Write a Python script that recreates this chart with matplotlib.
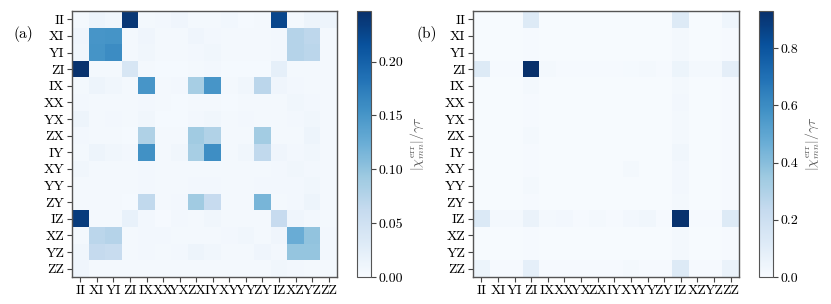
import numpy as np
import matplotlib
matplotlib.use("Agg")
import matplotlib.pyplot as plt

plt.rcParams['font.family'] = ['cmr10', 'DejaVu Serif']
plt.rcParams['mathtext.fontset'] = 'cm'
plt.rcParams['axes.formatter.use_mathtext'] = True

labels = ["II", "XI", "YI", "ZI", "IX", "XX", "YX", "ZX",
          "IY", "XY", "YY", "ZY", "IZ", "XZ", "YZ", "ZZ"]

chi_a = [
    [0.004, 0.012, 0.008, 0.240, 0.004, 0.006, 0.010, 0.005, 0.004, 0.007, 0.003, 0.005, 0.225, 0.004, 0.012, 0.012],
    [0.010, 0.150, 0.152, 0.004, 0.010, 0.004, 0.004, 0.010, 0.006, 0.004, 0.004, 0.004, 0.006, 0.075, 0.068, 0.004],
    [0.008, 0.152, 0.160, 0.004, 0.008, 0.004, 0.004, 0.006, 0.008, 0.004, 0.004, 0.005, 0.006, 0.075, 0.070, 0.004],
    [0.245, 0.004, 0.004, 0.040, 0.005, 0.003, 0.003, 0.004, 0.006, 0.003, 0.003, 0.003, 0.022, 0.005, 0.005, 0.004],
    [0.004, 0.012, 0.008, 0.004, 0.150, 0.004, 0.006, 0.085, 0.150, 0.004, 0.008, 0.070, 0.010, 0.006, 0.004, 0.004],
    [0.006, 0.004, 0.004, 0.004, 0.006, 0.005, 0.003, 0.004, 0.004, 0.003, 0.004, 0.004, 0.004, 0.008, 0.006, 0.004],
    [0.012, 0.004, 0.006, 0.004, 0.008, 0.003, 0.003, 0.006, 0.008, 0.004, 0.006, 0.005, 0.005, 0.006, 0.008, 0.004],
    [0.006, 0.004, 0.004, 0.003, 0.080, 0.004, 0.004, 0.090, 0.078, 0.004, 0.004, 0.088, 0.004, 0.004, 0.012, 0.004],
    [0.004, 0.012, 0.008, 0.006, 0.155, 0.004, 0.008, 0.085, 0.158, 0.004, 0.008, 0.065, 0.010, 0.006, 0.008, 0.004],
    [0.008, 0.004, 0.004, 0.004, 0.006, 0.004, 0.004, 0.004, 0.004, 0.004, 0.004, 0.004, 0.006, 0.008, 0.006, 0.004],
    [0.004, 0.004, 0.004, 0.004, 0.006, 0.004, 0.004, 0.006, 0.006, 0.004, 0.004, 0.006, 0.006, 0.006, 0.008, 0.004],
    [0.004, 0.004, 0.004, 0.003, 0.065, 0.004, 0.006, 0.090, 0.060, 0.004, 0.004, 0.115, 0.004, 0.006, 0.012, 0.004],
    [0.235, 0.004, 0.004, 0.018, 0.006, 0.002, 0.006, 0.004, 0.008, 0.004, 0.004, 0.004, 0.060, 0.010, 0.006, 0.004],
    [0.004, 0.070, 0.075, 0.004, 0.006, 0.006, 0.004, 0.004, 0.004, 0.006, 0.008, 0.004, 0.010, 0.125, 0.100, 0.006],
    [0.008, 0.062, 0.058, 0.004, 0.006, 0.005, 0.006, 0.012, 0.008, 0.004, 0.005, 0.010, 0.006, 0.098, 0.098, 0.006],
    [0.010, 0.004, 0.004, 0.004, 0.004, 0.004, 0.004, 0.004, 0.004, 0.004, 0.004, 0.004, 0.008, 0.006, 0.004, 0.004],
]

chi_b = [
    [0.005, 0.005, 0.005, 0.120, 0.005, 0.005, 0.005, 0.005, 0.005, 0.005, 0.005, 0.005, 0.120, 0.005, 0.005, 0.040],
    [0.005, 0.005, 0.005, 0.010, 0.005, 0.005, 0.005, 0.005, 0.005, 0.005, 0.005, 0.005, 0.020, 0.005, 0.005, 0.010],
    [0.005, 0.005, 0.005, 0.010, 0.005, 0.005, 0.005, 0.005, 0.005, 0.005, 0.005, 0.005, 0.020, 0.005, 0.005, 0.010],
    [0.120, 0.008, 0.008, 0.930, 0.015, 0.008, 0.008, 0.010, 0.008, 0.012, 0.015, 0.008, 0.050, 0.020, 0.020, 0.090],
    [0.005, 0.005, 0.005, 0.020, 0.005, 0.005, 0.005, 0.005, 0.005, 0.005, 0.005, 0.005, 0.020, 0.005, 0.005, 0.008],
    [0.005, 0.005, 0.005, 0.010, 0.005, 0.005, 0.005, 0.005, 0.005, 0.005, 0.005, 0.005, 0.025, 0.005, 0.005, 0.008],
    [0.005, 0.005, 0.005, 0.010, 0.005, 0.005, 0.005, 0.005, 0.005, 0.005, 0.005, 0.005, 0.015, 0.005, 0.005, 0.008],
    [0.005, 0.005, 0.005, 0.020, 0.005, 0.005, 0.005, 0.005, 0.005, 0.005, 0.005, 0.005, 0.020, 0.005, 0.005, 0.008],
    [0.005, 0.005, 0.005, 0.010, 0.005, 0.005, 0.005, 0.005, 0.005, 0.005, 0.005, 0.005, 0.030, 0.005, 0.005, 0.008],
    [0.005, 0.005, 0.005, 0.010, 0.005, 0.005, 0.005, 0.005, 0.005, 0.015, 0.005, 0.005, 0.025, 0.005, 0.005, 0.008],
    [0.005, 0.005, 0.005, 0.015, 0.005, 0.005, 0.005, 0.005, 0.005, 0.005, 0.005, 0.005, 0.025, 0.005, 0.005, 0.008],
    [0.005, 0.005, 0.005, 0.010, 0.005, 0.005, 0.005, 0.005, 0.005, 0.005, 0.005, 0.005, 0.015, 0.005, 0.005, 0.008],
    [0.130, 0.020, 0.020, 0.060, 0.015, 0.025, 0.010, 0.020, 0.010, 0.025, 0.030, 0.010, 0.920, 0.010, 0.010, 0.120],
    [0.005, 0.005, 0.005, 0.010, 0.005, 0.005, 0.005, 0.005, 0.005, 0.005, 0.005, 0.005, 0.020, 0.005, 0.005, 0.008],
    [0.005, 0.005, 0.005, 0.010, 0.005, 0.005, 0.005, 0.005, 0.005, 0.005, 0.005, 0.005, 0.015, 0.005, 0.005, 0.008],
    [0.050, 0.010, 0.010, 0.080, 0.010, 0.008, 0.008, 0.008, 0.008, 0.015, 0.008, 0.008, 0.120, 0.008, 0.008, 0.060],
]

W, H = 831, 304
fig = plt.figure(figsize=(W / 100, H / 100), dpi=100)

def rect(x0, x1, y0, y1):
    return [x0 / W, 1 - y1 / H, (x1 - x0) / W, (y1 - y0) / H]

ax_a = fig.add_axes(rect(72, 337, 11, 277))
cax_a = fig.add_axes(rect(357, 371, 11, 277))
ax_b = fig.add_axes(rect(473, 739, 11, 277))
cax_b = fig.add_axes(rect(759, 773, 11, 277))

cblabel = r'$|\chi^{\mathrm{err}}_{mn}|/\gamma\tau$'
fs = 10

for ax, cax, data, vmax, ticks, fmt, tag, tx in [
    (ax_a, cax_a, chi_a, 0.247, [0, 0.05, 0.10, 0.15, 0.20], '%.2f', '(a)', 13),
    (ax_b, cax_b, chi_b, 0.93, [0, 0.2, 0.4, 0.6, 0.8], '%.1f', '(b)', 416),
]:
    im = ax.imshow(np.array(data), cmap='Blues', vmin=0, vmax=vmax,
                   aspect='auto', interpolation='nearest')
    ax.set_xticks(range(len(labels)))
    ax.set_yticks(range(len(labels)))
    ax.set_xticklabels(labels, fontsize=fs)
    ax.set_yticklabels(labels, fontsize=fs)
    ax.tick_params(length=3.5, width=0.8, color='#444444', pad=2)
    for s in ax.spines.values():
        s.set_color('#555555')
        s.set_linewidth(1.0)
    cb = fig.colorbar(im, cax=cax, ticks=ticks, format=fmt)
    cb.ax.tick_params(labelsize=fs, length=3.5, width=0.8, color='#444444', pad=2)
    cb.outline.set_edgecolor('#555555')
    cb.set_label(cblabel, fontsize=fs, color='#555555')
    fig.text(tx / W, 1 - 34 / H, tag, fontsize=11, va='center', ha='left')

fig.savefig('out.png', dpi=100)
